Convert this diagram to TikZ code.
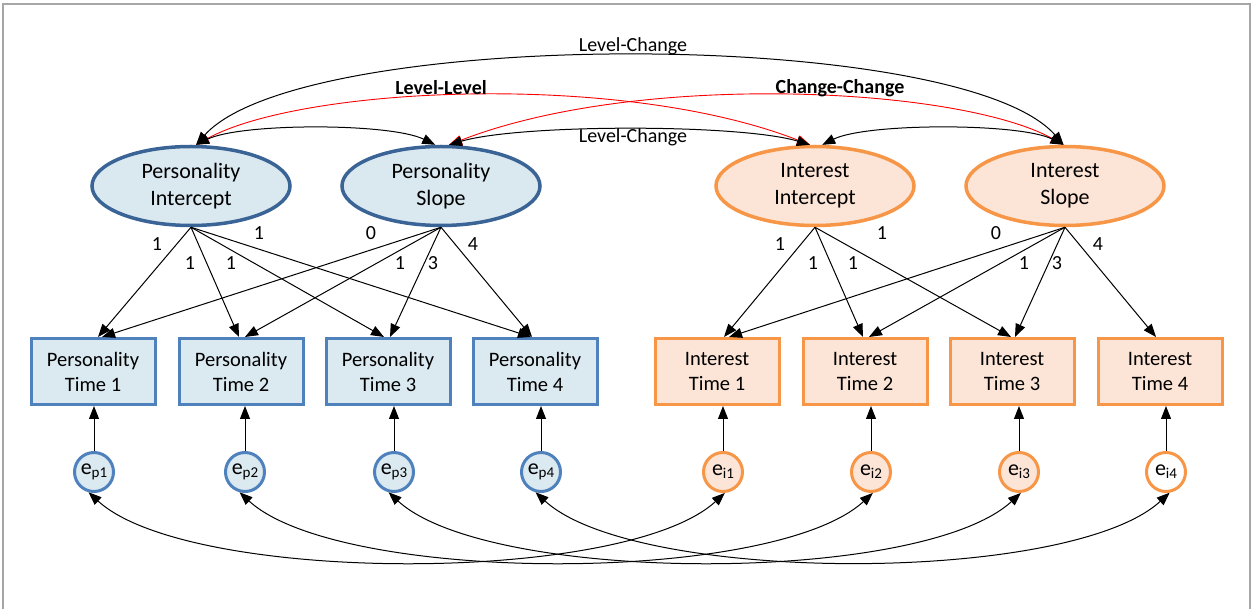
\documentclass[tikz,border=0pt]{standalone}
\usepackage{fontspec}
\setmainfont{Carlito}
\usetikzlibrary{arrows.meta,shapes.geometric}
\definecolor{pborder}{HTML}{3B6496}
\definecolor{pfill}{HTML}{DAE8F0}
\definecolor{bborder}{HTML}{4F81BD}
\definecolor{bfill}{HTML}{DBE9F1}
\definecolor{oborder}{HTML}{F79646}
\definecolor{ofill}{HTML}{FCE4D6}
\definecolor{framegray}{HTML}{A6A6A6}
\definecolor{redline}{HTML}{FF0000}
\newcommand{\errlab}[1]{e\raisebox{-3pt}{\fontsize{15}{15}\selectfont #1}}
\begin{document}
\begin{tikzpicture}[x=1pt,y=-1pt,
  latp/.style={ellipse, draw=pborder, fill=pfill, line width=3.5pt, minimum width=198pt, minimum height=79pt, inner sep=0pt, align=center, font=\fontsize{22}{27}\selectfont},
  lati/.style={latp, draw=oborder, fill=ofill},
  boxp/.style={rectangle, draw=bborder, fill=bfill, line width=3pt, minimum width=124pt, minimum height=66pt, inner sep=0pt, align=center, font=\fontsize{20.5}{25}\selectfont},
  boxi/.style={boxp, draw=oborder, fill=ofill},
  errp/.style={circle, draw=bborder, fill=bfill, line width=3pt, minimum size=39pt, inner sep=0pt, font=\fontsize{22}{22}\selectfont},
  erri/.style={errp, draw=oborder, fill=ofill},
  lbl/.style={font=\fontsize{20}{24}\selectfont, inner sep=0pt},
  blbl/.style={font=\fontsize{20}{24}\selectfont\bfseries, inner sep=0pt},
  tip/.style={-{Triangle[length=13pt,width=10pt]}, line width=1pt},
  dbl/.style={{Triangle[length=13pt,width=10pt]}-{Triangle[length=13pt,width=10pt]}, line width=1pt},
  rdbl/.style={dbl, draw=redline, line width=0.9pt}
]
\useasboundingbox (0,0) rectangle (1254,609);
\draw[framegray, line width=1.5pt] (3,612) -- (3,4) -- (1250,4) -- (1250,612);

% latent factors
\node[latp] (PI) at (191,186) {Personality\\Intercept};
\node[latp] (PS) at (441,186) {Personality\\Slope};
\node[lati] (II) at (815,186) {Interest\\Intercept};
\node[lati] (IS) at (1065,186) {Interest\\Slope};

% observed boxes
\node[boxp] (p1) at (93,371.5) {Personality\\Time 1};
\node[boxp] (p2) at (241,371.5) {Personality\\Time 2};
\node[boxp] (p3) at (388,371.5) {Personality\\Time 3};
\node[boxp] (p4) at (535,371.5) {Personality\\Time 4};
\node[boxi] (i1) at (717,371.5) {Interest\\Time 1};
\node[boxi] (i2) at (865,371.5) {Interest\\Time 2};
\node[boxi] (i3) at (1012,371.5) {Interest\\Time 3};
\node[boxi] (i4) at (1160,371.5) {Interest\\Time 4};

% errors
\node[errp] (ep1) at (94,472) {\errlab{p1}};
\node[errp] (ep2) at (245,472) {\errlab{p2}};
\node[errp] (ep3) at (394,472) {\errlab{p3}};
\node[errp] (ep4) at (541,472) {\errlab{p4}};
\node[erri] (ei1) at (723,472) {\errlab{i1}};
\node[erri] (ei2) at (871,472) {\errlab{i2}};
\node[erri] (ei3) at (1019,472) {\errlab{i3}};
\node[erri, fill=white] (ei4) at (1166,472) {\errlab{i4}};

% loadings personality
\draw[tip] (PI.south) -- ([xshift=5pt]p1.north);
\draw[tip] (PI.south) -- ([xshift=-2pt]p2.north);
\draw[tip] (PI.south) -- ([xshift=-4pt]p3.north);
\draw[tip] (PI.south) -- ([xshift=-4pt]p4.north);
\draw[tip] (PS.south) -- ([xshift=9pt]p1.north);
\draw[tip] (PS.south) -- ([xshift=4pt]p2.north);
\draw[tip] (PS.south) -- ([xshift=2pt]p3.north);
\draw[tip] (PS.south) -- ([xshift=-3pt]p4.north);
% loadings interest
\draw[tip] (II.south) -- ([xshift=7pt]i1.north);
\draw[tip] (II.south) -- ([xshift=-2pt]i2.north);
\draw[tip] (II.south) -- ([xshift=-1pt]i3.north);
\draw[tip] (IS.south) -- ([xshift=12pt]i1.north);
\draw[tip] (IS.south) -- ([xshift=4pt]i2.north);
\draw[tip] (IS.south) -- ([xshift=3pt]i3.north);
\draw[tip] (IS.south) -- ([xshift=-4pt]i4.north);

% loading labels
\node[lbl] (n1) at (157,244) {1};
\node[lbl] (n2) at (190,263) {1};
\node[lbl] (n3) at (231,263) {1};
\node[lbl] (n4) at (259,233) {1};
\node[lbl] (n5) at (371,233) {0};
\node[lbl] (n6) at (400,263) {1};
\node[lbl] (n7) at (433,263) {3};
\node[lbl] (n8) at (473,244) {4};
\node[lbl] (m1) at (780,244) {1};
\node[lbl] (m2) at (813,263) {1};
\node[lbl] (m3) at (853,263) {1};
\node[lbl] (m4) at (882,233) {1};
\node[lbl] (m5) at (996,233) {0};
\node[lbl] (m6) at (1024,263) {1};
\node[lbl] (m7) at (1057,263) {3};
\node[lbl] (m8) at (1098,244) {4};

% error paths
\foreach \k in {p1,p2,p3,p4,i1,i2,i3,i4}{
  \draw[tip] (e\k.north) -- (e\k.north |- \k.south);
}

% residual covariances
\draw[dbl] (ep1.255) .. controls +(100,92) and +(-100,92) .. (ei1.275);
\draw[dbl] (ep2.255) .. controls +(100,92) and +(-100,92) .. (ei2.275);
\draw[dbl] (ep3.255) .. controls +(100,92) and +(-100,92) .. (ei3.275);
\draw[dbl] (ep4.255) .. controls +(100,92) and +(-100,92) .. (ei4.280);

% top covariances
\draw[rdbl] (PI.83) .. controls +(105,-58) and +(-190,-74) .. (II.97);
\draw[rdbl] (PS.79) .. controls +(190,-74) and +(-105,-58) .. (IS.92);
\draw[dbl] (PI.83) .. controls +(105,-118) and +(-103,-118) .. (IS.92);
\draw[dbl] (PS.79) .. controls +(71,-21) and +(-70,-21) .. (II.97);
\draw[dbl] (PI.83) .. controls +(45,-22) and +(-45,-22) .. (PS.98);
\draw[dbl] (II.80) .. controls +(44,-22) and +(-44,-22) .. (IS.92);

\node[lbl] (lc1) at (633,46) {Level-Change};
\node[lbl] (lc2) at (633,137) {Level-Change};
\node[blbl] (ll) at (441,88) {Level-Level};
\node[blbl] (cc) at (840,88) {Change-Change};
\end{tikzpicture}
\end{document}
